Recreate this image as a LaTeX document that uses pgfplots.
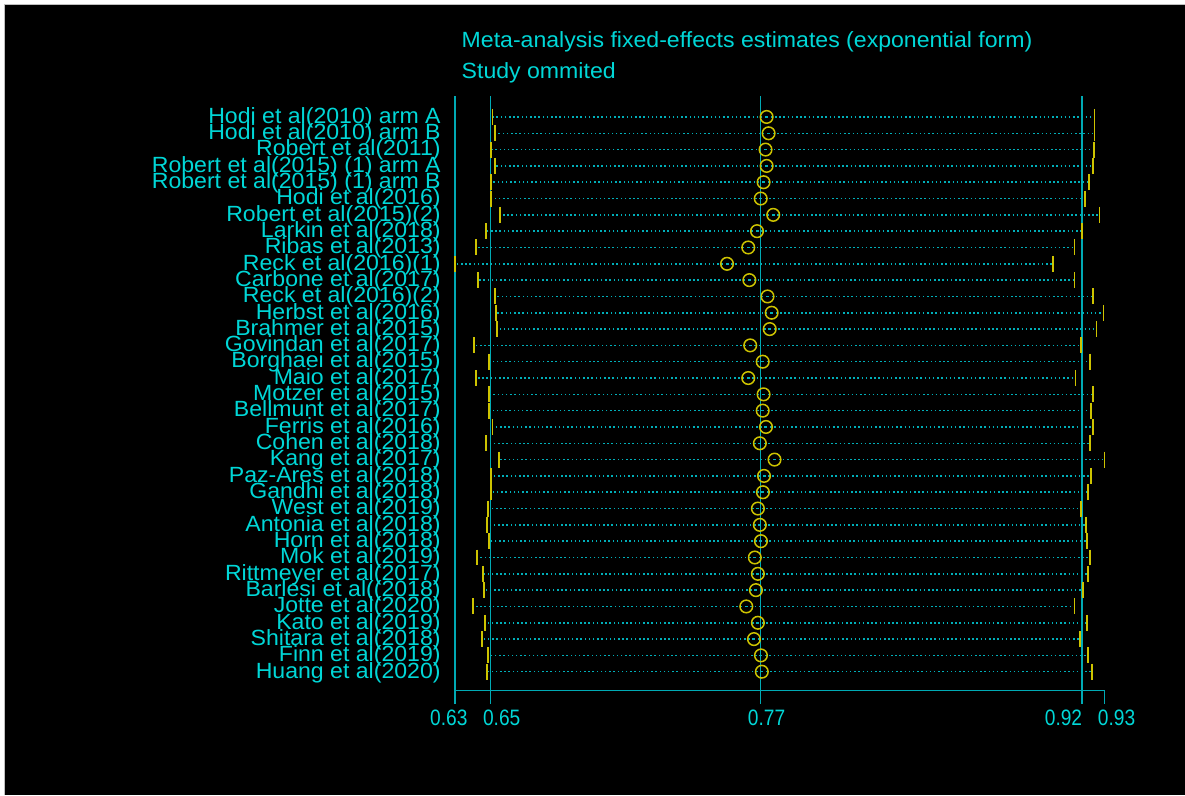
\documentclass[border=0pt]{standalone}
\usepackage{pgfplots}
\pgfplotsset{compat=1.18}
\usepackage{pgfplotstable}
\usepackage{fontspec}
\setmainfont{Liberation Sans}[FakeStretch=1.05]
\newfontfamily\narrowfont{Liberation Sans}[FakeStretch=0.86]

\definecolor{txtcyan}{RGB}{0,215,215}
\definecolor{linecyan}{RGB}{0,170,180}
\definecolor{dotcyan}{RGB}{0,175,185}
\definecolor{ciyellow}{RGB}{205,195,0}

% pooled estimate with one study omitted: lower bound, estimate, upper bound
\pgfplotstableread{
pos lo     est    hi
35  0.6508 0.7760 0.9257
34  0.6521 0.7769 0.9257
33  0.6500 0.7755 0.9254
32  0.6518 0.7760 0.9249
31  0.6503 0.7746 0.9231
30  0.6500 0.7733 0.9213
29  0.6544 0.7790 0.9280
28  0.6479 0.7716 0.9201
27  0.6433 0.7676 0.9166
26  0.6336 0.7579 0.9069
25  0.6442 0.7681 0.9166
24  0.6518 0.7764 0.9249
23  0.6523 0.7783 0.9298
22  0.6527 0.7774 0.9266
21  0.6424 0.7685 0.9196
20  0.6492 0.7742 0.9236
19  0.6433 0.7676 0.9170
18  0.6492 0.7746 0.9249
17  0.6492 0.7742 0.9240
16  0.6508 0.7757 0.9249
15  0.6479 0.7729 0.9236
14  0.6537 0.7796 0.9303
13  0.6500 0.7748 0.9240
12  0.6500 0.7743 0.9227
11  0.6488 0.7720 0.9196
10  0.6483 0.7729 0.9217
9   0.6492 0.7734 0.9222
8   0.6437 0.7706 0.9236
7   0.6465 0.7720 0.9227
6   0.6469 0.7711 0.9206
5   0.6419 0.7667 0.9166
4   0.6474 0.7720 0.9222
3   0.6460 0.7702 0.9192
2   0.6488 0.7734 0.9227
1   0.6483 0.7738 0.9245
}\meta

\begin{document}
\begin{tikzpicture}
\fill[white] (0,0) rectangle (1185pt,795pt);
\fill[black] (5pt,0) rectangle (1185pt,790pt);
\draw[gray!50, line width=1pt] (5pt,0) -- (5pt,790pt) -- (1185pt,790pt);

\node[anchor=base west, inner sep=0pt, txtcyan, font=\fontsize{22}{24}\selectfont]
  at (461.7pt,747.3pt) {Meta-analysis fixed-effects estimates (exponential form)};
\node[anchor=base west, inner sep=0pt, txtcyan, font=\fontsize{22}{24}\selectfont]
  at (461.7pt,716.7pt) {Study ommited};

\begin{axis}[
  at={(455pt,104pt)}, anchor=south west,
  width=650pt, height=595pt, scale only axis,
  xmin=0.6336, xmax=0.9303, ymin=-0.164, ymax=36.287,
  axis lines=left,
  axis line style={-, linecyan, line width=1.5pt},
  tick align=outside, major tick length=13pt,
  xtick={0.6336,0.65,0.7732,0.92,0.9303},
  xticklabels={\makebox[0pt]{\kern-12pt 0.63},\makebox[0pt]{\kern22pt 0.65},
               \makebox[0pt]{\kern12pt 0.77},\makebox[0pt]{\kern-37pt 0.92},
               \makebox[0pt]{\kern24pt 0.93}},
  xtick style={linecyan, line width=1.5pt},
  xticklabel style={txtcyan, inner sep=0pt, anchor=north, yshift=-6pt,
    font=\narrowfont\fontsize{22.3}{24}\selectfont},
  ytick={1,...,35},
  yticklabels={Huang et al(2020), Finn et al(2019), Shitara et al(2018),
    Kato et al(2019), Jotte et al(2020), Barlesi et al((2018),
    Rittmeyer et al(2017), Mok et al(2019), Horn et al(2018),
    Antonia et al(2018), West et al(2019), Gandhi et al(2018),
    Paz-Ares et al(2018), Kang et al(2017), Cohen et al(2018),
    Ferris et al(2016), Bellmunt et al(2017), Motzer et al(2015),
    Maio et al(2017), Borghaei et al(2015), Govindan et al(2017),
    Brahmer et al(2015), Herbst et al(2016), Reck et al(2016)(2),
    Carbone et al(2017), Reck et al(2016)(1), Ribas et al(2013),
    Larkin et al(2018), Robert et al(2015)(2), Hodi et al(2016),
    Robert et al(2015) (1) arm B, Robert et al(2015) (1) arm A,
    Robert et al(2011), Hodi et al(2010) arm B, Hodi et al(2010) arm A},
  ytick style={draw=none},
  yticklabel style={txtcyan, inner sep=0pt, anchor=base east,
    xshift=-1pt, yshift=-6.3pt, font=\fontsize{22}{24}\selectfont},
]
% overall bounds and estimate
\addplot[linecyan, line width=1.5pt] coordinates {(0.65,-0.164) (0.65,36.287)};
\addplot[linecyan, line width=1.5pt] coordinates {(0.7732,-0.164) (0.7732,36.287)};
\addplot[linecyan, line width=1.5pt] coordinates {(0.92,-0.164) (0.92,36.287)};

% dotted interval lines
\addplot[draw=none, mark=none,
  error bars/.cd, x dir=both, x explicit, error mark=none,
  error bar style={draw=dotcyan, line width=1.5pt, dash pattern=on 1.5pt off 2.7pt}]
  table[x=est, y=pos,
        x error plus expr=\thisrow{hi}-\thisrow{est},
        x error minus expr=\thisrow{est}-\thisrow{lo}] {\meta};

% interval ends
\addplot[only marks, mark=|, mark size=8pt, ciyellow, mark options={line width=1.8pt}]
  table[x=lo, y=pos] {\meta};
\addplot[only marks, mark=|, mark size=8pt, ciyellow, mark options={line width=1.8pt}]
  table[x=hi, y=pos] {\meta};

% estimates
\addplot[only marks, mark=o, mark size=6.3pt, ciyellow, mark options={line width=1.5pt}]
  table[x=est, y=pos] {\meta};
\end{axis}
\end{tikzpicture}
\end{document}
